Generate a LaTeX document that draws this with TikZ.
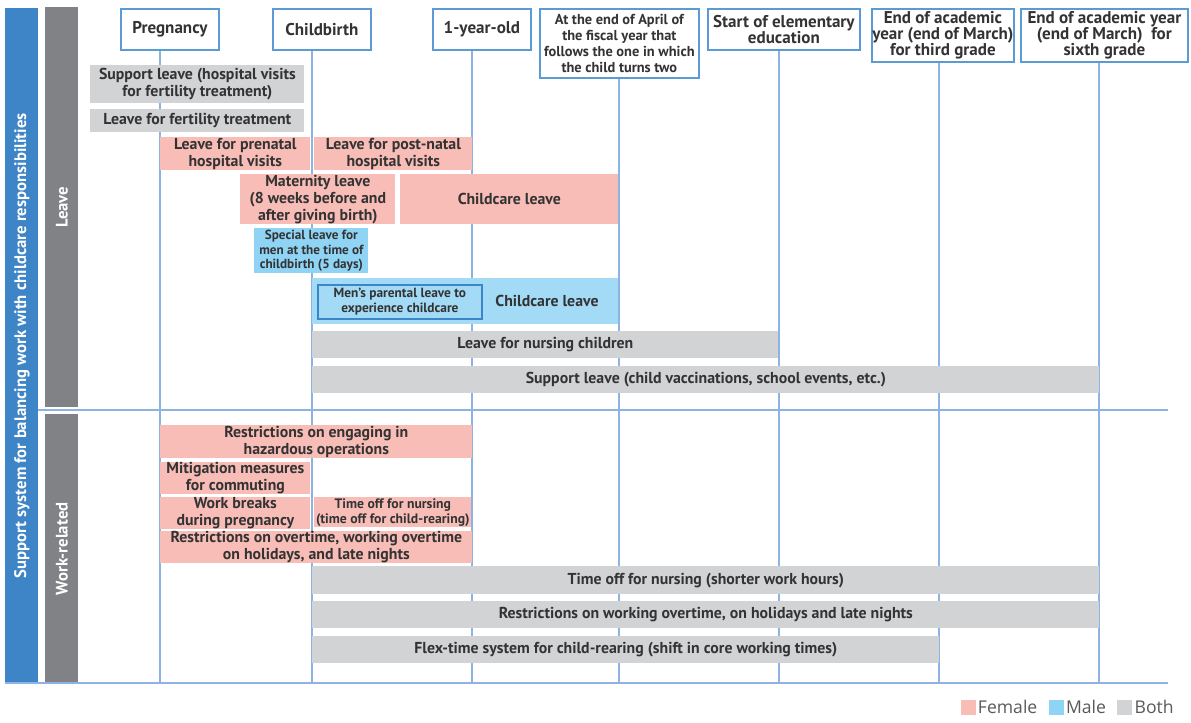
\documentclass[tikz,border=0pt]{standalone}
\usepackage{fontspec}
\setmainfont{PT Sans}
\newfontfamily\legendfont{Open Sans}
\usetikzlibrary{positioning}
\definecolor{frameblue}{HTML}{5B9BD5}
\definecolor{gridblue}{HTML}{8DB3E2}
\definecolor{sideblue}{HTML}{3D85C6}
\definecolor{sidegray}{HTML}{808285}
\definecolor{femalepink}{HTML}{F8BDB7}
\definecolor{malesky}{HTML}{A3DAF5}
\definecolor{maleblue}{HTML}{8FD4F4}
\definecolor{bothgray}{HTML}{D1D3D4}
\definecolor{innerblue}{HTML}{3A87C8}
\definecolor{inkgray}{HTML}{333333}
\definecolor{legendtext}{HTML}{595959}
\newcommand{\barfont}{\bfseries\fontsize{9}{9.8}\selectfont}
\tikzset{
  wh/.style 2 args = {minimum width=#1*0.2mm, minimum height=#2*0.2mm},
  stagebox/.style  = {rectangle, draw=frameblue, line width=1pt, fill=white, inner sep=0pt,
                      anchor=north west, align=center, text=inkgray,
                      font=\bfseries\fontsize{9.7}{9.2}\selectfont},
  plainbar/.style  = {rectangle, inner sep=0pt, anchor=north west, align=center,
                      text=inkgray, font=\barfont},
  female/.style    = {plainbar, fill=femalepink},
  male/.style      = {plainbar, fill=maleblue},
  malelight/.style = {plainbar, fill=malesky},
  both/.style      = {plainbar, fill=bothgray},
  sidebar/.style   = {rectangle, inner sep=0pt, anchor=north west},
  sidetext/.style  = {rotate=90, text=white, font=\bfseries\fontsize{9.5}{11}\selectfont},
  grid/.style      = {draw=gridblue, line width=0.7pt},
  legendkey/.style = {rectangle, inner sep=0pt, minimum size=3mm},
  legendlabel/.style = {inner sep=0pt, text=legendtext, font=\legendfont\fontsize{10}{12}\selectfont},
}

\begin{document}
\begin{tikzpicture}[x=0.2mm, y=-0.2mm]
\useasboundingbox (0,0) rectangle (1191,723);

% =============== SIDE BANDS ===============
\node (sys)   [sidebar, fill=sideblue, wh={33}{675}] at (5,8) {};
\node (leave) [sidebar, fill=sidegray, wh={33}{400}] at (45,7) {};
\node (work)  [sidebar, fill=sidegray, wh={33}{269}] at (45,414) {};
\node [sidetext] at (sys.center)   {Support system for balancing work with childcare responsibilities};
\node [sidetext] at (leave.center) {Leave};
\node [sidetext] at (work.center)  {Work-related};

% =============== STAGE HEADERS ===============
\node (preg)  [stagebox, wh={98}{41}]  at (120,8)  {Pregnancy};
\node (birth) [stagebox, wh={98}{41}]  at (272,8)  {Childbirth};
\node (one)   [stagebox, wh={98}{41}]  at (432,8)  {1-year-old};
\node (april) [stagebox, wh={159}{69}, font=\bfseries\fontsize{8.2}{9}\selectfont] at (539,8)
  {At the end of April of\\the fiscal year that\\follows the one in which\\the child turns two};
\node (elem)  [stagebox, wh={152}{41}] at (707,8)  {Start of elementary\\education};
\node (third) [stagebox, wh={142}{53}] at (871,8)  {End of academic\\year (end of March)\\for third grade};
\node (sixth) [stagebox, wh={167}{53}] at (1020,8) {End of academic year\\(end of March)\ \ for\\sixth grade};

% time lines down to the base
\coordinate (base) at (0,683);
\foreach \s/\x in {preg/160, birth/312, one/472, april/619, elem/779, third/939, sixth/1099}
  \draw[grid] (\x,0 |- \s.south) -- (\x,0 |- base);
\draw[grid] (38,410) -- (1168,410);
\draw[grid] (5,0 |- base) -- (1168,0 |- base);

% =============== LEAVE ===============
\node (fsup)    [both, wh={214}{38}]   at (90,65)   {Support leave (hospital visits\\for fertility treatment)};
\node (ffert)   [both, wh={214}{23}]   at (90,109)  {Leave for fertility treatment};
\node (prenat)  [female, wh={150}{33}] at (160,137) {Leave for prenatal\\hospital visits};
\node (postnat) [female, wh={158}{33}] at (314,137) {Leave for post-natal\\hospital visits};
\node (mater)   [female, wh={155}{50}] at (240,174) {Maternity leave\\(8 weeks before and\\after giving birth)};
\node (fchild)  [female, wh={218}{50}] at (400,174) {Childcare leave};
\node (special) [male, wh={114}{45}, font=\bfseries\fontsize{7.5}{8.3}\selectfont] at (254,228)
  {Special leave for\\men at the time of\\childbirth (5 days)};
\node (mchild)  [malelight, wh={306}{46}] at (312,278) {};
\node (papa)    [malelight, draw=innerblue, line width=1pt, wh={164}{34},
                 font=\bfseries\fontsize{7.6}{8.6}\selectfont] at (317,284)
  {Men’s parental leave to\\experience childcare};
\node [text=inkgray, font=\barfont] at (547,301) {Childcare leave};
\node (nurse)   [both, wh={466}{27}] at (312,331) {Leave for nursing children};
\node (school)  [both, wh={787}{27}] at (312,366) {Support leave (child vaccinations, school events, etc.)};

% =============== WORK-RELATED ===============
\node (hazard)   [female, wh={312}{33}] at (160,425) {Restrictions on engaging in\\hazardous operations};
\node (commute)  [female, wh={150}{31}] at (160,462) {Mitigation measures\\for commuting};
\node (breaks)   [female, wh={150}{30}] at (160,497) {Work breaks\\during pregnancy};
\node (rearing)  [female, wh={157}{30}, font=\bfseries\fontsize{7.8}{8.6}\selectfont] at (314,497)
  {Time off for nursing\\(time off for child-rearing)};
\node (overtime) [female, wh={312}{28}] at (160,531) {Restrictions on overtime, working overtime\\on holidays, and late nights};
\node (shorter)  [both, wh={787}{28}] at (312,566) {Time off for nursing (shorter work hours)};
\node (restrict) [both, wh={787}{27}] at (312,601) {Restrictions on working overtime, on holidays and late nights};
\node (flex)     [both, wh={627}{27}] at (312,636) {Flex-time system for child-rearing (shift in core working times)};

% =============== LEGEND ===============
\node (kfem)  [legendkey, fill=femalepink] at (968,707) {};
\node (lfem)  [legendlabel, right=1pt of kfem] {Female};
\node (kmale) [legendkey, fill=maleblue, right=6pt of lfem] {};
\node (lmale) [legendlabel, right=1pt of kmale] {Male};
\node (kboth) [legendkey, fill=bothgray, right=6pt of lmale] {};
\node (lboth) [legendlabel, right=1pt of kboth] {Both};

\end{tikzpicture}
\end{document}
